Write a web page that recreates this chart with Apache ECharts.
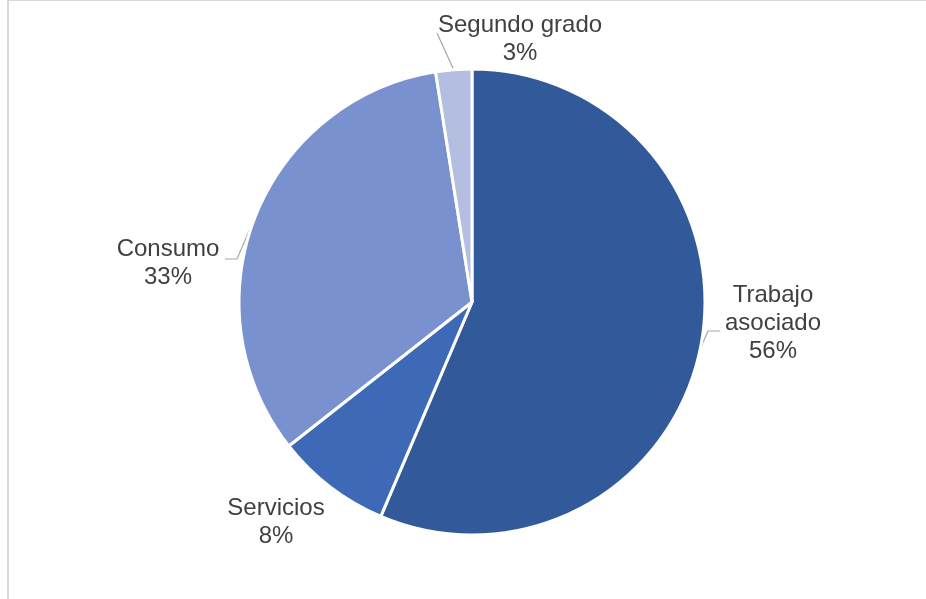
<!DOCTYPE html>
<html>
<head>
<meta charset="utf-8">
<script src="https://cdn.jsdelivr.net/npm/echarts@6/dist/echarts.min.js"></script>
<style>
html,body{margin:0;padding:0;background:#fff;}
#chart{width:926px;height:599px;}
</style>
</head>
<body>
<div id="chart"></div>
<script>
const categories = ['Trabajo\nasociado', 'Servicios', 'Consumo', 'Segundo grado'];
const values = [56.4, 8.0, 33.1, 2.5];
const colors = ['#325A9A', '#3E69B6', '#7991CE', '#B3BEE0'];

// label placement (centre of label block) and leader line elbows, relative to label centre
const labelPos = [
  { x: 773, y: 323, line: [[-65, 8], [-53, 8]] },
  { x: 276, y: 522, line: null },
  { x: 168, y: 263, line: [[69, -4], [57, -4]] },
  { x: 520, y: 39, line: [[-83, -6], [-83, -6]] }
];

const chart = echarts.init(document.getElementById('chart'), null, { renderer: 'canvas' });

const data = categories.map((c, i) => ({
  name: c,
  value: values[i],
  itemStyle: { color: colors[i] },
  labelLine: { show: labelPos[i].line !== null }
}));

chart.setOption({
  animation: false,
  backgroundColor: '#ffffff',
  graphic: [{
    type: 'rect',
    shape: { x: 8, y: 0, width: 1200, height: 1200 },
    style: { fill: 'none', stroke: '#d9d9d9', lineWidth: 2 },
    silent: true,
    z: -10
  }],
  series: [{
    type: 'pie',
    center: [472, 302],
    radius: [0, 233],
    startAngle: 90,
    clockwise: true,
    avoidLabelOverlap: false,
    data: data,
    itemStyle: { borderColor: '#ffffff', borderWidth: 3 },
    label: {
      show: true,
      position: 'outside',
      formatter: p => p.name + '\n' + Math.round(p.value) + '%',
      fontFamily: 'Liberation Sans, Arial, sans-serif',
      fontSize: 24,
      lineHeight: 28,
      color: '#404040',
      align: 'center'
    },
    labelLine: {
      show: true,
      length: 10,
      length2: 10,
      lineStyle: { color: '#a6a6a6', width: 1.2 }
    },
    emphasis: { disabled: true },
    labelLayout: function (params) {
      const i = params.dataIndex;
      const lp = labelPos[i];
      const res = { x: lp.x, y: lp.y, align: 'center', verticalAlign: 'middle' };
      if (lp.line && params.labelLinePoints) {
        const a = params.labelLinePoints[0];
        res.labelLinePoints = [
          [a[0], a[1]],
          [lp.x + lp.line[0][0], lp.y + lp.line[0][1]],
          [lp.x + lp.line[1][0], lp.y + lp.line[1][1]]
        ];
      }
      return res;
    }
  }]
});
</script>
</body>
</html>
